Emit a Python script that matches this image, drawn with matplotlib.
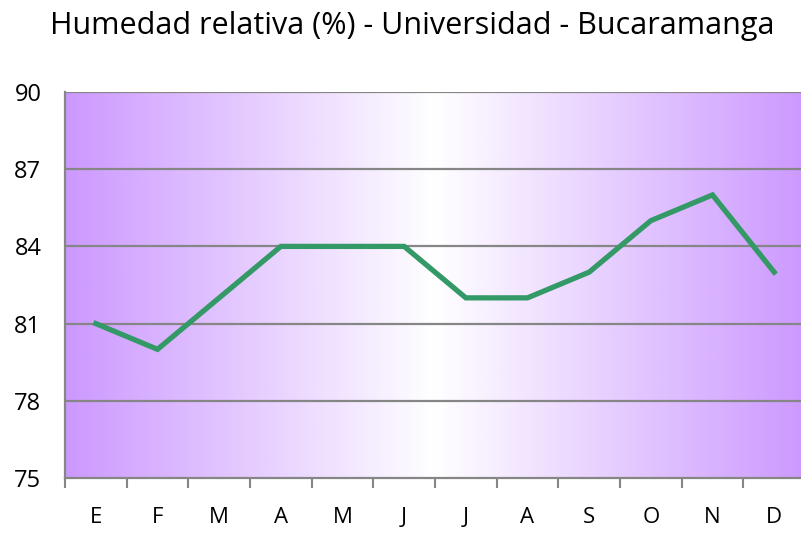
import numpy as np
import matplotlib
matplotlib.use("Agg")
import matplotlib.pyplot as plt
from matplotlib.colors import LinearSegmentedColormap

months = ["E", "F", "M", "A", "M", "J", "J", "A", "S", "O", "N", "D"]
humidity = [81, 80, 82, 84, 84, 84, 82, 82, 83, 85, 86, 83]
yticks = [75, 78, 81, 84, 87, 90]

plt.rcParams['font.family'] = ['Open Sans', 'DejaVu Sans']

fig = plt.figure(figsize=(8.01, 5.35), dpi=100)
ax = fig.add_axes([65/801, 1-478/535, 740/801, (478-92)/535])

x = np.arange(len(months))
ax.set_xlim(-0.5, len(months)-0.5)
ax.set_ylim(75, 90)

# gradient background
cmap = LinearSegmentedColormap.from_list("g", ["#CC99FF", "#FFFFFF", "#CC99FF"])
grad = np.linspace(0, 1, 512).reshape(1, -1)
ax.imshow(grad, cmap=cmap, aspect='auto', extent=[-0.5, len(months)-0.5, 75, 90], zorder=0)

for y in yticks[1:]:
    ax.axhline(y, color='#868686', lw=1.6, zorder=1)

ax.plot(x, humidity, color='#339966', lw=3.8, zorder=3, solid_joinstyle='miter')

ax.set_yticks(yticks)
ax.set_yticklabels([str(v) for v in yticks], fontsize=17)
ax.set_xticks(x)
ax.set_xticklabels(months, fontsize=16)
ax.tick_params(axis='x', length=0, pad=21)
ax.tick_params(axis='y', length=0, pad=17)
ax.set_xticks(np.arange(-0.5, len(months), 1), minor=True)
ax.tick_params(axis='x', which='minor', length=7, width=1.5, color='#868686', direction='out')

for s in ['top', 'right']:
    ax.spines[s].set_visible(False)
for s in ['left', 'bottom']:
    ax.spines[s].set_color('#868686')
    ax.spines[s].set_linewidth(1.6)

fig.text(412/801, 1-26/535, "Humedad relativa (%) - Universidad - Bucaramanga",
         ha='center', va='center', fontsize=22)

fig.savefig("out.png", dpi=100)
